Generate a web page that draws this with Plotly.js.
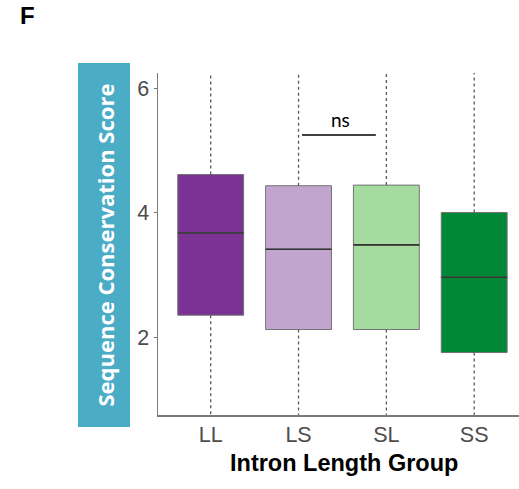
<!DOCTYPE html>
<html>
<head>
<meta charset="utf-8">
<script src="https://cdn.plot.ly/plotly-3.0.1.min.js"></script>
<style>html,body{margin:0;padding:0;background:#fff;}#chart{width:519px;height:489px;}</style>
</head>
<body>
<div id="chart"></div>
<script>
// ---- data ----
const groups = ['LL', 'LS', 'SL', 'SS'];
const q1 = [2.35, 2.12, 2.12, 1.75];
const median = [3.67, 3.41, 3.48, 2.96];
const q3 = [4.61, 4.43, 4.44, 4.00];
const whiskerLow = [0.3, 0.3, 0.3, 0.3];     // extend below the visible range
const whiskerHigh = [7.0, 7.0, 7.0, 7.0];    // extend above the visible range
const fills = ['#7b3294', '#c2a5cf', '#a6dba0', '#008837'];
const yTicks = [2, 4, 6];
const sigGroups = ['LS', 'SL'];
const sigY = 5.245;
const sigLabel = 'ns';

const boxHalf = 0.375;
const traces = [];

groups.forEach((g, i) => {
  // whiskers (dashed), drawn first so boxes sit on top
  traces.push({
    type: 'scatter', mode: 'lines',
    x: [i, i, null, i, i],
    y: [q3[i], whiskerHigh[i], null, q1[i], whiskerLow[i]],
    line: {color: '#5a5a5a', width: 1.3, dash: '3px,3px'},
    hoverinfo: 'skip', showlegend: false, cliponaxis: true
  });
});

groups.forEach((g, i) => {
  traces.push({
    type: 'box',
    x: [i],
    q1: [q1[i]], median: [median[i]], q3: [q3[i]],
    lowerfence: [q1[i]], upperfence: [q3[i]],
    width: boxHalf * 2,
    fillcolor: fills[i],
    line: {color: '#737373', width: 1},
    whiskerwidth: 0,
    boxpoints: false,
    hoverinfo: 'skip', showlegend: false
  });
  // median line (darker than the outline)
  traces.push({
    type: 'scatter', mode: 'lines',
    x: [i - boxHalf, i + boxHalf],
    y: [median[i], median[i]],
    line: {color: '#333333', width: 1.6},
    hoverinfo: 'skip', showlegend: false
  });
});

// significance bar
const s0 = groups.indexOf(sigGroups[0]) + 0.04;
const s1 = groups.indexOf(sigGroups[1]) - 0.12;
traces.push({
  type: 'scatter', mode: 'lines',
  x: [s0, s1], y: [sigY, sigY],
  line: {color: '#000000', width: 1.6},
  hoverinfo: 'skip', showlegend: false
});

const L = 158, R = 519, T = 73, B = 415, W = 519, H = 489;
const px = v => (v - L) / (R - L);
const py = v => (B - v) / (B - T);

const layout = {
  width: W, height: H,
  margin: {l: L, r: W - R, t: T, b: H - B, pad: 0},
  paper_bgcolor: '#ffffff', plot_bgcolor: '#ffffff',
  showlegend: false,
  font: {family: 'Liberation Sans, Arial, sans-serif', color: '#4d4d4d'},
  xaxis: {
    range: [-0.6, 3.51],
    tickmode: 'array', tickvals: groups.map((g, i) => i), ticktext: groups,
    showgrid: false, zeroline: false,
    showline: true, linecolor: '#7a7a7a', linewidth: 1.5,
    ticks: '',
    tickfont: {size: 21.5, color: '#4d4d4d'},
    fixedrange: true
  },
  yaxis: {
    range: [0.747, 6.241],
    tickmode: 'array', tickvals: yTicks, ticktext: yTicks.map(String),
    showgrid: false, zeroline: false,
    showline: true, linecolor: '#7a7a7a', linewidth: 1.5,
    ticks: 'outside', ticklen: 3, tickcolor: '#7a7a7a', tickwidth: 1,
    tickfont: {size: 21.5, color: '#4d4d4d'},
    fixedrange: true
  },
  shapes: [{
    type: 'rect', xref: 'paper', yref: 'paper',
    x0: px(78), x1: px(130), y0: py(427), y1: py(63),
    fillcolor: '#4bacc6', line: {width: 0}, layer: 'below'
  }],
  annotations: [
    {
      text: '<b>Intron Length Group</b>',
      xref: 'paper', yref: 'paper', x: px(343.5), y: py(463),
      xanchor: 'center', yanchor: 'middle', showarrow: false,
      font: {family: 'Liberation Sans, Arial, sans-serif', size: 23.5, color: '#000000'}
    },
    {
      text: '<b>Sequence Conservation Score</b>', textangle: -90,
      xref: 'paper', yref: 'paper', x: px(104), y: py(245.5),
      xanchor: 'center', yanchor: 'middle', showarrow: false,
      font: {family: 'Open Sans, sans-serif', size: 22, color: '#ffffff'}
    },
    {
      text: '<b>F</b>', xref: 'paper', yref: 'paper', x: px(18), y: py(15),
      xanchor: 'left', yanchor: 'middle', showarrow: false,
      font: {family: 'Liberation Sans, Arial, sans-serif', size: 24, color: '#000000'}
    },
    {
      text: sigLabel, xref: 'x', yref: 'y', x: (s0 + s1) / 2 + 0.02, y: sigY,
      xanchor: 'center', yanchor: 'bottom', yshift: 2, showarrow: false,
      font: {family: 'Lato, sans-serif', size: 19, color: '#000000'}
    }
  ]
};

Plotly.newPlot('chart', traces, layout, {displayModeBar: false, staticPlot: true});
</script>
</body>
</html>
